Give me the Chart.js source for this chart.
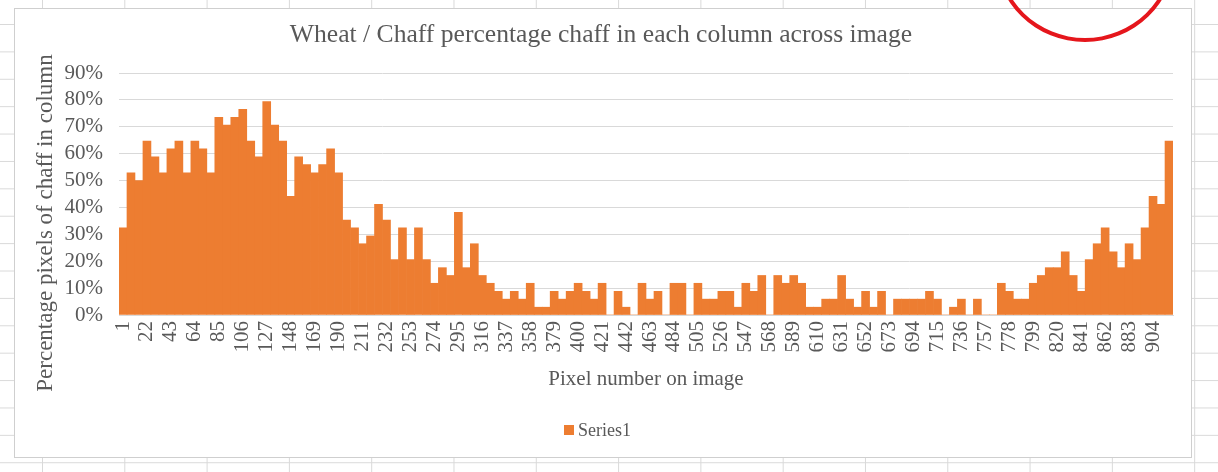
<!DOCTYPE html>
<html>
<head>
<meta charset="utf-8">
<title>Wheat / Chaff</title>
<script src="https://cdn.jsdelivr.net/npm/chart.js@4.4.1/dist/chart.umd.min.js"></script>
<style>
  html, body { margin: 0; padding: 0; }
  body {
    width: 1218px; height: 472px; overflow: hidden; position: relative;
    background-color: #ffffff;
    background-image:
      linear-gradient(to right, #d9d9d9 1px, transparent 1px),
      linear-gradient(to bottom, #d9d9d9 1px, transparent 1px);
    background-size: 82.3px 27.4px;
    background-position: 42px 24px;
  }
  #frame {
    position: absolute; left: 14px; top: 8px; width: 1178px; height: 450px;
    box-sizing: border-box; background: #ffffff; border: 1px solid #cfcfcf;
  }
  #plot { position: absolute; left: 0; top: 0; }
  #ring {
    position: absolute; left: 995px; top: -134px; width: 180px; height: 176px;
    box-sizing: border-box; border: 4px solid #e5161c; border-radius: 50%;
  }
</style>
</head>
<body>
<div id="frame"></div>
<canvas id="plot" width="1218" height="472"></canvas>
<div id="ring"></div>
<script>
// Pixel column numbers (every 7th column of the image)
const pixelColumns = [
  1, 8, 15, 22, 29, 36, 43, 50, 57, 64, 71, 78, 85, 92, 99, 106, 113, 120, 127, 134,
  141, 148, 155, 162, 169, 176, 183, 190, 197, 204, 211, 218, 225, 232, 239, 246, 253, 260, 267, 274,
  281, 288, 295, 302, 309, 316, 323, 330, 337, 344, 351, 358, 365, 372, 379, 386, 393, 400, 407, 414,
  421, 428, 435, 442, 449, 456, 463, 470, 477, 484, 491, 498, 505, 512, 519, 526, 533, 540, 547, 554,
  561, 568, 575, 582, 589, 596, 603, 610, 617, 624, 631, 638, 645, 652, 659, 666, 673, 680, 687, 694,
  701, 708, 715, 722, 729, 736, 743, 750, 757, 764, 771, 778, 785, 792, 799, 806, 813, 820, 827, 834,
  841, 848, 855, 862, 869, 876, 883, 890, 897, 904, 911, 918
];

// Percentage of chaff pixels in each sampled column
const chaffPercent = [
  32.4, 52.9, 50.0, 64.7, 58.8, 52.9, 61.8, 64.7, 52.9, 64.7,
  61.8, 52.9, 73.5, 70.6, 73.5, 76.5, 64.7, 58.8, 79.4, 70.6,
  64.7, 44.1, 58.8, 55.9, 52.9, 55.9, 61.8, 52.9, 35.3, 32.4,
  26.5, 29.4, 41.2, 35.3, 20.6, 32.4, 20.6, 32.4, 20.6, 11.8,
  17.6, 14.7, 38.2, 17.6, 26.5, 14.7, 11.8, 8.8, 5.9, 8.8,
  5.9, 11.8, 2.9, 2.9, 8.8, 5.9, 8.8, 11.8, 8.8, 5.9,
  11.8, 0, 8.8, 2.9, 0, 11.8, 5.9, 8.8, 0, 11.8,
  11.8, 0, 11.8, 5.9, 5.9, 8.8, 8.8, 2.9, 11.8, 8.8,
  14.7, 0, 14.7, 11.8, 14.7, 11.8, 2.9, 2.9, 5.9, 5.9,
  14.7, 5.9, 2.9, 8.8, 2.9, 8.8, 0, 5.9, 5.9, 5.9,
  5.9, 8.8, 5.9, 0, 2.9, 5.9, 0, 5.9, 0, 0,
  11.8, 8.8, 5.9, 5.9, 11.8, 14.7, 17.6, 17.6, 23.5, 14.7,
  8.8, 20.6, 26.5, 32.4, 23.5, 17.6, 26.5, 20.6, 32.4, 44.1,
  41.2, 64.7
];

// Value axis ticks (percent)
const percentTicks = [0, 10, 20, 30, 40, 50, 60, 70, 80, 90];

const seriesName = 'Series1';
const chartTitle = 'Wheat / Chaff percentage chaff in each column across image';
const xAxisTitle = 'Pixel number on image';
const yAxisTitle = 'Percentage pixels of chaff in column';

const SERIF = "'Liberation Serif', 'Times New Roman', serif";
const INK = '#595959';
const BAR = '#ED7D31';
const GRID = '#d9d9d9';

// Titles, rotated axis title and legend drawn onto the chart canvas
const chartText = {
  id: 'chartText',
  afterDraw(chart) {
    const ctx = chart.ctx;
    const area = chart.chartArea;
    ctx.save();
    ctx.fillStyle = INK;
    ctx.textAlign = 'center';
    ctx.textBaseline = 'middle';

    ctx.font = '25.6px ' + SERIF;
    ctx.fillText(chartTitle, 601, 35);

    ctx.font = '21px ' + SERIF;
    ctx.fillText(xAxisTitle, (area.left + area.right) / 2, 379);

    ctx.save();
    ctx.translate(46, 223);
    ctx.rotate(-Math.PI / 2);
    ctx.font = '23px ' + SERIF;
    ctx.fillText(yAxisTitle, 0, 0);
    ctx.restore();

    // legend
    const ds = chart.data.datasets[0];
    ctx.fillStyle = ds.backgroundColor;
    ctx.fillRect(564, 425, 10, 10);
    ctx.fillStyle = INK;
    ctx.textAlign = 'left';
    ctx.font = '18px ' + SERIF;
    ctx.fillText(ds.label, 578, 431);
    ctx.restore();
  }
};

Chart.defaults.font.family = SERIF;
Chart.defaults.color = INK;

new Chart(document.getElementById('plot'), {
  type: 'bar',
  data: {
    labels: pixelColumns,
    datasets: [{
      label: seriesName,
      data: chaffPercent,
      backgroundColor: BAR,
      borderWidth: 0,
      categoryPercentage: 1.0,
      barPercentage: 1.0
    }]
  },
  options: {
    responsive: false,
    animation: false,
    devicePixelRatio: 1,
    layout: { padding: { top: 73, left: 0, right: 45, bottom: 0 } },
    plugins: {
      legend: { display: false },
      title: { display: false },
      tooltip: { enabled: false }
    },
    scales: {
      x: {
        grid: { display: false, drawTicks: false },
        border: { display: true, color: GRID, width: 1 },
        ticks: {
          autoSkip: false,
          minRotation: 90,
          maxRotation: 90,
          padding: 6,
          font: { size: 21 },
          color: INK,
          callback: function (value, index) {
            return index % 3 === 0 ? String(pixelColumns[index]) : '';
          }
        },
        afterFit: function (scale) { scale.height = 157; }
      },
      y: {
        min: percentTicks[0],
        max: percentTicks[percentTicks.length - 1],
        grid: { color: GRID, lineWidth: 1, drawTicks: false },
        border: { display: false },
        afterBuildTicks: function (scale) {
          scale.ticks = percentTicks.map(v => ({ value: v }));
        },
        ticks: {
          autoSkip: false,
          padding: 16,
          font: { size: 21 },
          color: INK,
          callback: function (value) { return value + '%'; }
        },
        afterFit: function (scale) { scale.width = 119; }
      }
    }
  },
  plugins: [chartText]
});
</script>
</body>
</html>
